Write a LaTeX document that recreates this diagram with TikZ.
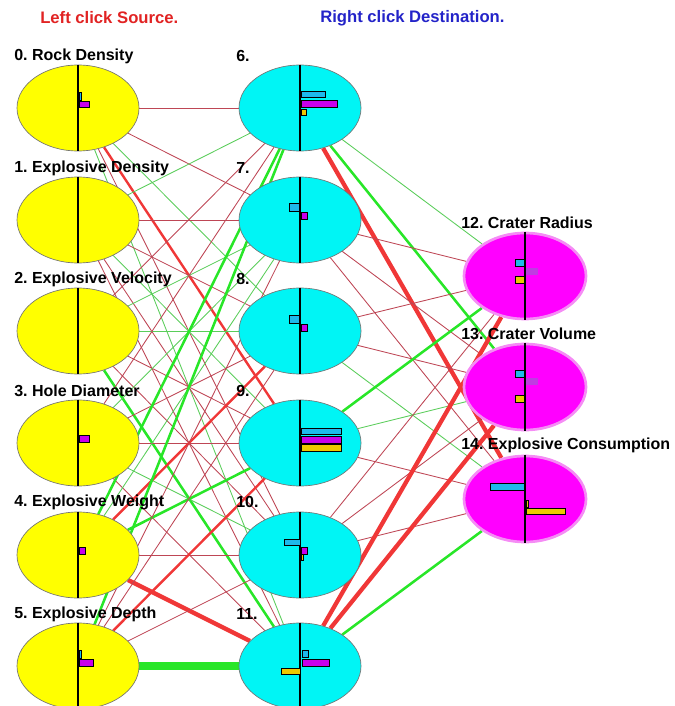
\documentclass[tikz,border=0pt]{standalone}
\usepackage{fontspec}
\setmainfont{Liberation Sans}
\usepackage{tikz}
\usetikzlibrary{shapes.geometric}
\usetikzlibrary{backgrounds}
\definecolor{srcred}{RGB}{225,35,35}
\definecolor{dstblue}{RGB}{35,35,200}
\definecolor{inyel}{RGB}{255,255,0}
\definecolor{hidcyan}{RGB}{0,245,245}
\definecolor{outmag}{RGB}{255,0,255}
\definecolor{outglow}{RGB}{245,140,245}
\definecolor{barcy}{RGB}{30,185,235}
\definecolor{barmg}{RGB}{200,0,235}
\definecolor{baryl}{RGB}{238,200,0}
\definecolor{barfade}{RGB}{190,60,225}
\definecolor{wred}{RGB}{190,70,85}
\definecolor{wgreen}{RGB}{90,205,90}
\definecolor{sred}{RGB}{240,55,55}
\definecolor{sgreen}{RGB}{40,230,40}
\tikzset{lbl/.style={font=\fontsize{12}{14}\selectfont\bfseries, inner sep=0pt, anchor=west}}
\tikzset{ttl/.style={font=\fontsize{12.5}{14}\selectfont\bfseries, inner sep=0pt, anchor=west}}
\tikzset{unit/.style={ellipse, minimum width=91.5pt, minimum height=64.5pt, inner sep=0pt}}
\tikzset{srcunit/.style={unit, fill=inyel, draw=black!55, line width=0.5pt}}
\tikzset{hidunit/.style={unit, fill=hidcyan, draw=black!55, line width=0.5pt}}
\tikzset{outunit/.style={unit, fill=outmag, draw=outglow, line width=2pt}}
\tikzset{axis/.style={draw=black, line width=0.9pt}}
\tikzset{bar/.style={draw=black, line width=0.6pt}}
\tikzset{rt/.style={draw=wred, line width=0.65pt}}
\tikzset{gt/.style={draw=wgreen, line width=0.65pt}}
\tikzset{rm/.style={draw=sred, line width=1.8pt}}
\tikzset{gm/.style={draw=sgreen, line width=1.9pt}}
\tikzset{rk/.style={draw=sred, line width=3.2pt}}
\tikzset{gk/.style={draw=sgreen, line width=6.5pt}}
\frenchspacing
\begin{document}
\begin{tikzpicture}[x=0.75pt,y=-0.75pt]
  \useasboundingbox (0,0) rectangle (674,706);
  \node[ttl, text=srcred] (hsrc) at (40,18) {Left click Source.};
  \node[ttl, text=dstblue] (hdst) at (320,18) {Right click Destination.};

  \node[srcunit] (n0) at (78,108) {};
  \node[srcunit] (n1) at (78,220) {};
  \node[srcunit] (n2) at (78,331) {};
  \node[srcunit] (n3) at (78,443) {};
  \node[srcunit] (n4) at (78,555) {};
  \node[srcunit] (n5) at (78,666) {};
  \node[hidunit] (n6) at (300,108) {};
  \node[hidunit] (n7) at (300,220) {};
  \node[hidunit] (n8) at (300,331) {};
  \node[hidunit] (n9) at (300,443) {};
  \node[hidunit] (n10) at (300,555) {};
  \node[hidunit] (n11) at (300,666) {};
  \node[outunit] (n12) at (525,276) {};
  \node[outunit] (n13) at (525,387) {};
  \node[outunit] (n14) at (525,499) {};

  \node[lbl] (t0) at (14,56) {0. Rock Density};
  \node[lbl] (t1) at (14,168) {1. Explosive Density};
  \node[lbl] (t2) at (14,279) {2. Explosive Velocity};
  \node[lbl] (t3) at (14,391) {3. Hole Diameter};
  \node[lbl] (t4) at (14,502) {4. Explosive Weight};
  \node[lbl] (t5) at (14,614) {5. Explosive Depth};
  \node[lbl] (t6) at (236,56) {6.};
  \node[lbl] (t7) at (236,168) {7.};
  \node[lbl] (t8) at (236,279) {8.};
  \node[lbl] (t9) at (236,391) {9.};
  \node[lbl] (t10) at (236,502) {10.};
  \node[lbl] (t11) at (236,614) {11.};
  \node[lbl] (t12) at (461,223) {12. Crater Radius};
  \node[lbl] (t13) at (461,334) {13. Crater Volume};
  \node[lbl] (t14) at (461,445) {14. Explosive Consumption};

  \begin{scope}[on background layer]
    \foreach \a/\b/\w in {0/6/rt, 0/7/rt, 0/8/gt, 0/9/rm, 0/10/rt, 0/11/gt,
      1/6/gt, 1/7/rt, 1/8/rt, 1/9/gt, 1/10/rt, 1/11/rt,
      2/6/rt, 2/7/gt, 2/8/gt, 2/9/rt, 2/10/rt, 2/11/gm,
      3/6/rt, 3/7/gt, 3/8/rt, 3/9/rt, 3/10/gt, 3/11/rt,
      4/6/gm, 4/7/gt, 4/8/rm, 4/9/gm, 4/10/rt, 4/11/rk,
      5/6/gm, 5/7/rt, 5/8/rt, 5/9/rm, 5/10/rt, 5/11/gk,
      6/12/gt, 6/13/gm, 6/14/rk, 7/12/rt, 7/13/rt, 7/14/rt,
      8/12/rt, 8/13/rt, 8/14/gt, 9/12/gm, 9/13/gt, 9/14/rt,
      10/12/rt, 10/13/rt, 10/14/rt, 11/12/rk, 11/13/rk, 11/14/gm}
      \draw[\w] (n\a) -- (n\b);
  \end{scope}

  \foreach \n in {0,...,14}
    \draw[axis] (n\n.north) -- (n\n.south);

  \draw[bar, fill=barcy] (79,92) rectangle (81,100);
  \draw[bar, fill=barmg] (79,101) rectangle (89,107);
  \draw[bar, fill=barmg] (79,435) rectangle (89,442);
  \draw[bar, fill=barmg] (79,547) rectangle (85,554);
  \draw[bar, fill=barcy] (79,650) rectangle (81,658);
  \draw[bar, fill=barmg] (79,659) rectangle (93,666);

  \draw[bar, fill=barcy] (301,91) rectangle (325,97);
  \draw[bar, fill=barmg] (301,100) rectangle (337,107);
  \draw[bar, fill=baryl] (301,109) rectangle (306,115);
  \draw[bar, fill=barcy] (289,203) rectangle (299,211);
  \draw[bar, fill=barmg] (301,212) rectangle (307,219);
  \draw[bar, fill=barcy] (289,315) rectangle (299,323);
  \draw[bar, fill=barmg] (301,324) rectangle (307,331);
  \draw[bar, fill=barcy] (301,428) rectangle (341,434);
  \draw[bar, fill=barmg] (301,436) rectangle (341,443);
  \draw[bar, fill=baryl] (301,444) rectangle (341,451);
  \draw[bar, fill=barcy] (284,539) rectangle (300,545);
  \draw[bar, fill=barmg] (301,547) rectangle (307,554);
  \draw[bar, fill=baryl] (301,554) rectangle (303,560);
  \draw[bar, fill=barcy] (302,650) rectangle (308,657);
  \draw[bar, fill=barmg] (302,659) rectangle (329,666);
  \draw[bar, fill=baryl] (281,668) rectangle (300,674);

  \draw[bar, fill=barcy] (515,259) rectangle (524,266);
  \fill[barfade] (526,268) rectangle (538,275);
  \draw[bar, fill=baryl] (515,276) rectangle (524,283);
  \draw[bar, fill=barcy] (515,370) rectangle (524,377);
  \fill[barfade] (526,378) rectangle (538,385);
  \draw[bar, fill=baryl] (515,395) rectangle (524,402);
  \draw[bar, fill=barcy] (490,483) rectangle (524,490);
  \draw[bar, fill=baryl] (526,500) rectangle (528,507);
  \draw[bar, fill=baryl] (526,508) rectangle (565,514);
\end{tikzpicture}
\end{document}
